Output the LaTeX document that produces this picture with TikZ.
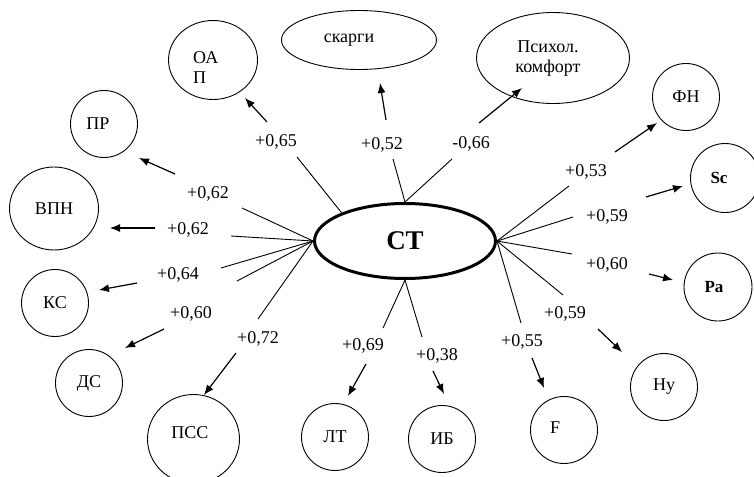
\documentclass[tikz,border=0pt]{standalone}
\usepackage{fontspec}
\setmainfont{Liberation Serif}
\usetikzlibrary{arrows.meta,shapes.geometric}
\begin{document}
\begin{tikzpicture}[x=1pt,y=-1pt,
  every node/.style={font=\fontsize{18}{20}\selectfont},
  circ/.style={draw, circle, line width=0.9pt, minimum size=67pt, inner sep=0pt},
  oval/.style={draw, ellipse, line width=0.9pt, inner sep=0pt},
  lab/.style={inner sep=0pt},
  seg/.style={line width=0.9pt},
  arr/.style={line width=1.2pt, -{Latex[length=10pt,width=8pt]}}]
\useasboundingbox (0,0) rectangle (754,476);

% central node
\node[draw, ellipse, line width=3pt, minimum width=181pt, minimum height=75pt,
      inner sep=0pt, font=\fontsize{27}{29}\selectfont\bfseries] (CT) at (405,241) {CT};

% outer nodes
\node[oval, minimum width=89pt, minimum height=79pt] (OAP) at (213,60) {};
\node[lab, align=left, anchor=west] (OAPt) at (193,68) {ОА\\П};
\node[oval, minimum width=155pt, minimum height=59pt] (SK) at (359,40) {};
\node[lab] (SKt) at (349,40) {скарги};
\node[oval, minimum width=153pt, minimum height=91pt] (PK) at (553,58) {};
\node[lab, align=center] (PKt) at (548,59) {Психол.\\комфорт};
\node[circ] (FN) at (686,97) {ФН};
\node[circ, minimum size=69pt, font=\fontsize{17}{19}\selectfont\bfseries] (SC) at (725,178) {\hspace*{-12pt}Sc};
\node[circ, minimum size=68pt, font=\fontsize{17}{19}\selectfont\bfseries] (PA) at (718,287) {\hspace*{-8pt}Pa};
\node[circ] (HY) at (664,387) {Hy};
\node[circ] (F) at (564,430) {};
\node[lab] (Ft) at (555,428) {F};
\node[circ] (IB) at (442,439) {ИБ};
\node[circ] (LT) at (335,437) {ЛТ};
\node[oval, minimum width=92pt, minimum height=89pt] (PSS) at (193.5,439) {};
\node[lab] (PSSt) at (190,433) {ПСС};
\node[circ] (DS) at (89,383) {ДС};
\node[circ] (KS) at (55,303) {КС};
\node[oval, minimum width=89pt, minimum height=83pt] (VPN) at (54,208.5) {ВПН};
\node[circ] (PR) at (104,124) {};
\node[lab] (PRt) at (98,124) {ПР};

% coefficient labels
\node[lab] (l1) at (276,142) {+0,65};
\node[lab] (l2) at (208,194) {+0,62};
\node[lab] (l3) at (188,230) {+0,62};
\node[lab] (l4) at (178,275) {+0,64};
\node[lab] (l5) at (191,314) {+0,60};
\node[lab] (l6) at (258,339) {+0,72};
\node[lab] (l7) at (363,346) {+0,69};
\node[lab] (l8) at (437,356) {+0,38};
\node[lab] (l9) at (522,342) {+0,55};
\node[lab] (l10) at (565,314) {+0,59};
\node[lab] (l11) at (607,265) {+0,60};
\node[lab] (l12) at (607,217) {+0,59};
\node[lab] (l13) at (586,172) {+0,53};
\node[lab] (l14) at (471,144) {-0,66};
\node[lab] (l15) at (382,145) {+0,52};

% line ends
\coordinate (a1) at (297,157);
\coordinate (a2) at (242,208);
\coordinate (a3) at (231,236);
\coordinate (a4) at (221,268);
\coordinate (a5) at (237,281);
\coordinate (a6) at (258,319);
\coordinate (a7) at (383,328);
\coordinate (a8) at (422,337);
\coordinate (a9) at (521,323);
\coordinate (a10) at (563,295);
\coordinate (a11) at (572,254);
\coordinate (a12) at (573,217);
\coordinate (a13) at (569,186);
\coordinate (a14) at (452,159);
\coordinate (a15) at (393,159);

% arrow starts
\coordinate (b1) at (267,122);
\coordinate (b2) at (175,174);
\coordinate (b3) at (155,228);
\coordinate (b4) at (137,283);
\coordinate (b5) at (164,329);
\coordinate (b6) at (236,353);
\coordinate (b7) at (366,364);
\coordinate (b8) at (433,371);
\coordinate (b9) at (532,358);
\coordinate (b10) at (598,329);
\coordinate (b11) at (649,274);
\coordinate (b12) at (646,197);
\coordinate (b13) at (615,152);
\coordinate (b14) at (479,123);
\coordinate (b15) at (386,120);

% arrow tips
\coordinate (c1) at (245,98);
\coordinate (c2) at (139,158);
\coordinate (c3) at (110,228);
\coordinate (c4) at (99,290);
\coordinate (c5) at (125,348);
\coordinate (c6) at (204,395);
\coordinate (c7) at (348,396);
\coordinate (c8) at (444,394);
\coordinate (c9) at (544,388);
\coordinate (c10) at (622,352);
\coordinate (c11) at (673,280);
\coordinate (c12) at (683,186);
\coordinate (c13) at (657,123);
\coordinate (c14) at (522,88);
\coordinate (c15) at (380,83);

% lines from CT
\draw[seg] (CT.156) -- (a1);
\draw[seg] (CT.west) -- (a2);
\draw[seg] (CT.west) -- (a3);
\draw[seg] (CT.west) -- (a4);
\draw[seg] (CT.west) -- (a5);
\draw[seg] (CT.west) -- (a6);
\draw[seg] (CT.south) -- (a7);
\draw[seg] (CT.south) -- (a8);
\draw[seg] (CT.east) -- (a9);
\draw[seg] (CT.east) -- (a10);
\draw[seg] (CT.east) -- (a11);
\draw[seg] (CT.east) -- (a12);
\draw[seg] (CT.east) -- (a13);
\draw[seg] (CT.north) -- (a14);
\draw[seg] (CT.north) -- (a15);

% arrows towards the outer nodes
\draw[arr] (b1) -- (c1);
\draw[arr] (b2) -- (c2);
\draw[arr] (b3) -- (c3);
\draw[arr] (b4) -- (c4);
\draw[arr] (b5) -- (c5);
\draw[arr] (b6) -- (c6);
\draw[arr] (b7) -- (c7);
\draw[arr] (b8) -- (c8);
\draw[arr] (b9) -- (c9);
\draw[arr] (b10) -- (c10);
\draw[arr] (b11) -- (c11);
\draw[arr] (b12) -- (c12);
\draw[arr] (b13) -- (c13);
\draw[arr] (b14) -- (c14);
\draw[arr] (b15) -- (c15);
\end{tikzpicture}
\end{document}
